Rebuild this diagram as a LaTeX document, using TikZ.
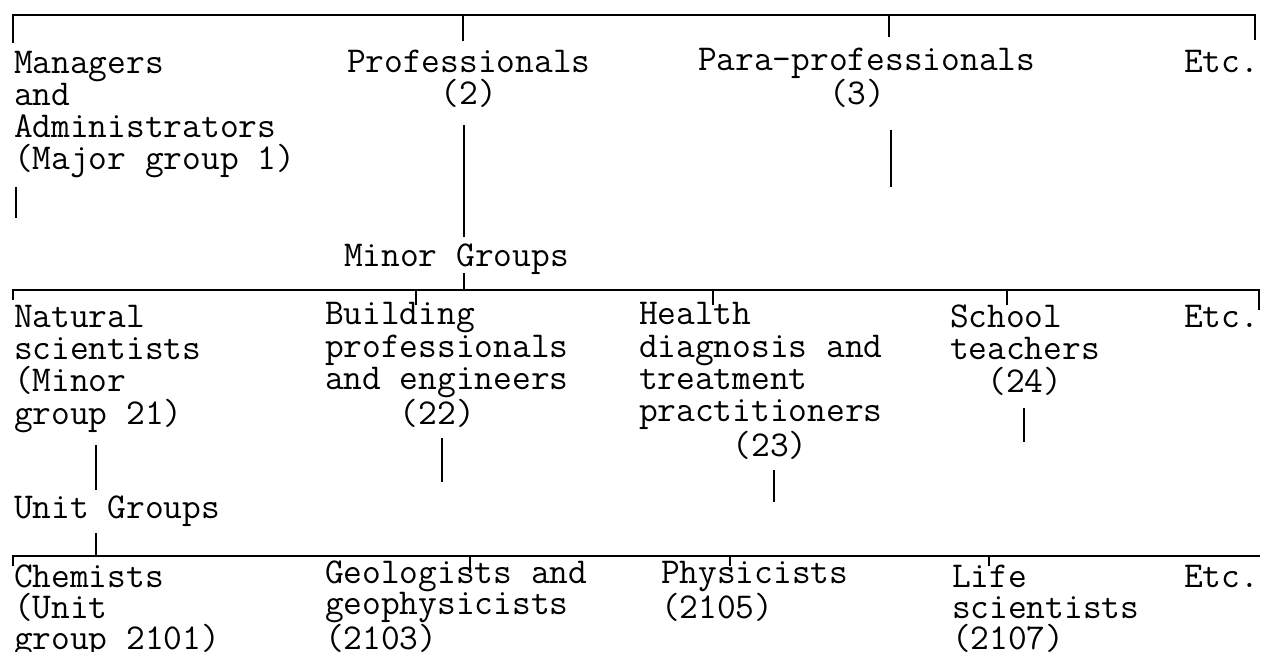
\documentclass[tikz,border=0pt]{standalone}
\begin{document}
\begin{tikzpicture}[x=1pt,y=-1pt,line width=2pt,
    lbl/.style={anchor=base west, inner sep=0pt, align=left, font=\fontsize{36.4}{32.3}\selectfont\ttfamily},
    lowlbl/.style={lbl, font=\fontsize{36.4}{31}\selectfont\ttfamily}]
    \useasboundingbox (0,0) rectangle (1263,652);

    % Major groups (placed at the baseline of their last line)
    \node[lbl] (mgr) at (13,170) {Managers\\and\\Administrators\\(Major group 1)};
    \node[lbl] (prof) at (346,105) {Professionals\\\hphantom{00000}(2)};
    \node[lbl] (para) at (697,105) {Para-professionals\\\hphantom{0000000}(3)};
    \node[lbl] (etc1) at (1183,73) {Etc.};

    % Minor groups
    \node[lbl] (minor) at (343,266) {Minor Groups};
    \node[lbl] (natsci) at (13,424) {Natural\\scientists\\(Minor\\group 21)};
    \node[lbl] (build) at (324,424) {Building\\professionals\\and engineers\\\hphantom{0000}(22)};
    \node[lbl] (health) at (638,456) {Health\\diagnosis and\\treatment\\practitioners\\\hphantom{00000}(23)};
    \node[lbl] (school) at (949,392) {School\\teachers\\\hphantom{00}(24)};
    \node[lbl] (etc2) at (1183,327) {Etc.};

    % Unit groups
    \node[lbl] (unit) at (13,518) {Unit Groups};
    \node[lowlbl] (chem) at (13,649) {Chemists\\(Unit\\group 2101)};
    \node[lowlbl] (geol) at (324,649) {Geologists and\\geophysicists\\(2103)};
    \node[lowlbl] (phys) at (660,618) {Physicists\\(2105)};
    \node[lowlbl] (life) at (951,649) {Life\\scientists\\(2107)};
    \node[lowlbl] (etc3) at (1183,587) {Etc.};

    % Bracket ends and stems
    \coordinate (major-l) at (13,43);
    \coordinate (major-r) at (1255,40);
    \coordinate (prof-top) at (463,15);
    \coordinate (para-top) at (889,15);
    \coordinate (mgr-stem) at (16,187);
    \coordinate (prof-stem) at (464,125);
    \coordinate (para-stem) at (891,130);
    \coordinate (minor-up) at (464,237);
    \coordinate (minor-down) at (464,273);
    \coordinate (minor-l) at (13,300);
    \coordinate (minor-r) at (1259,310);
    \coordinate (build-top) at (416,290);
    \coordinate (health-top) at (713,290);
    \coordinate (school-top) at (1007,290);
    \coordinate (natsci-stem) at (96,445);
    \coordinate (build-stem) at (442,438);
    \coordinate (health-stem) at (774,470);
    \coordinate (school-stem) at (1024,408);
    \coordinate (unit-up) at (96,490);
    \coordinate (unit-down) at (96,533);
    \coordinate (unit-l) at (13,566);
    \coordinate (unit-r) at (1260,556);
    \coordinate (geol-top) at (470,556);
    \coordinate (phys-top) at (730,556);
    \coordinate (life-top) at (989,556);

    % Major bracket
    \draw (major-l) -- ++(0,-28) -| (major-r);
    \draw (prof-top) -- ++(0,26);
    \draw (para-top) -- ++(0,22);
    \draw (mgr-stem) -- ++(0,31);
    \draw (prof-stem) -- (minor-up);
    \draw (para-stem) -- ++(0,57);

    % Minor bracket
    \draw (minor-down) -- ++(0,17);
    \draw (minor-l) -- ++(0,-10) -| (minor-r);
    \draw (build-top) -- ++(0,15);
    \draw (health-top) -- ++(0,15);
    \draw (school-top) -- ++(0,15);
    \draw (natsci-stem) -- (unit-up);
    \draw (build-stem) -- ++(0,44);
    \draw (health-stem) -- ++(0,32);
    \draw (school-stem) -- ++(0,34);

    % Unit bracket
    \draw (unit-down) -- ++(0,23);
    \draw (unit-l) -- ++(0,-10) -- (unit-r);
    \draw (geol-top) -- ++(0,17);
    \draw (phys-top) -- ++(0,10);
    \draw (life-top) -- ++(0,10);

\end{tikzpicture}
\end{document}
